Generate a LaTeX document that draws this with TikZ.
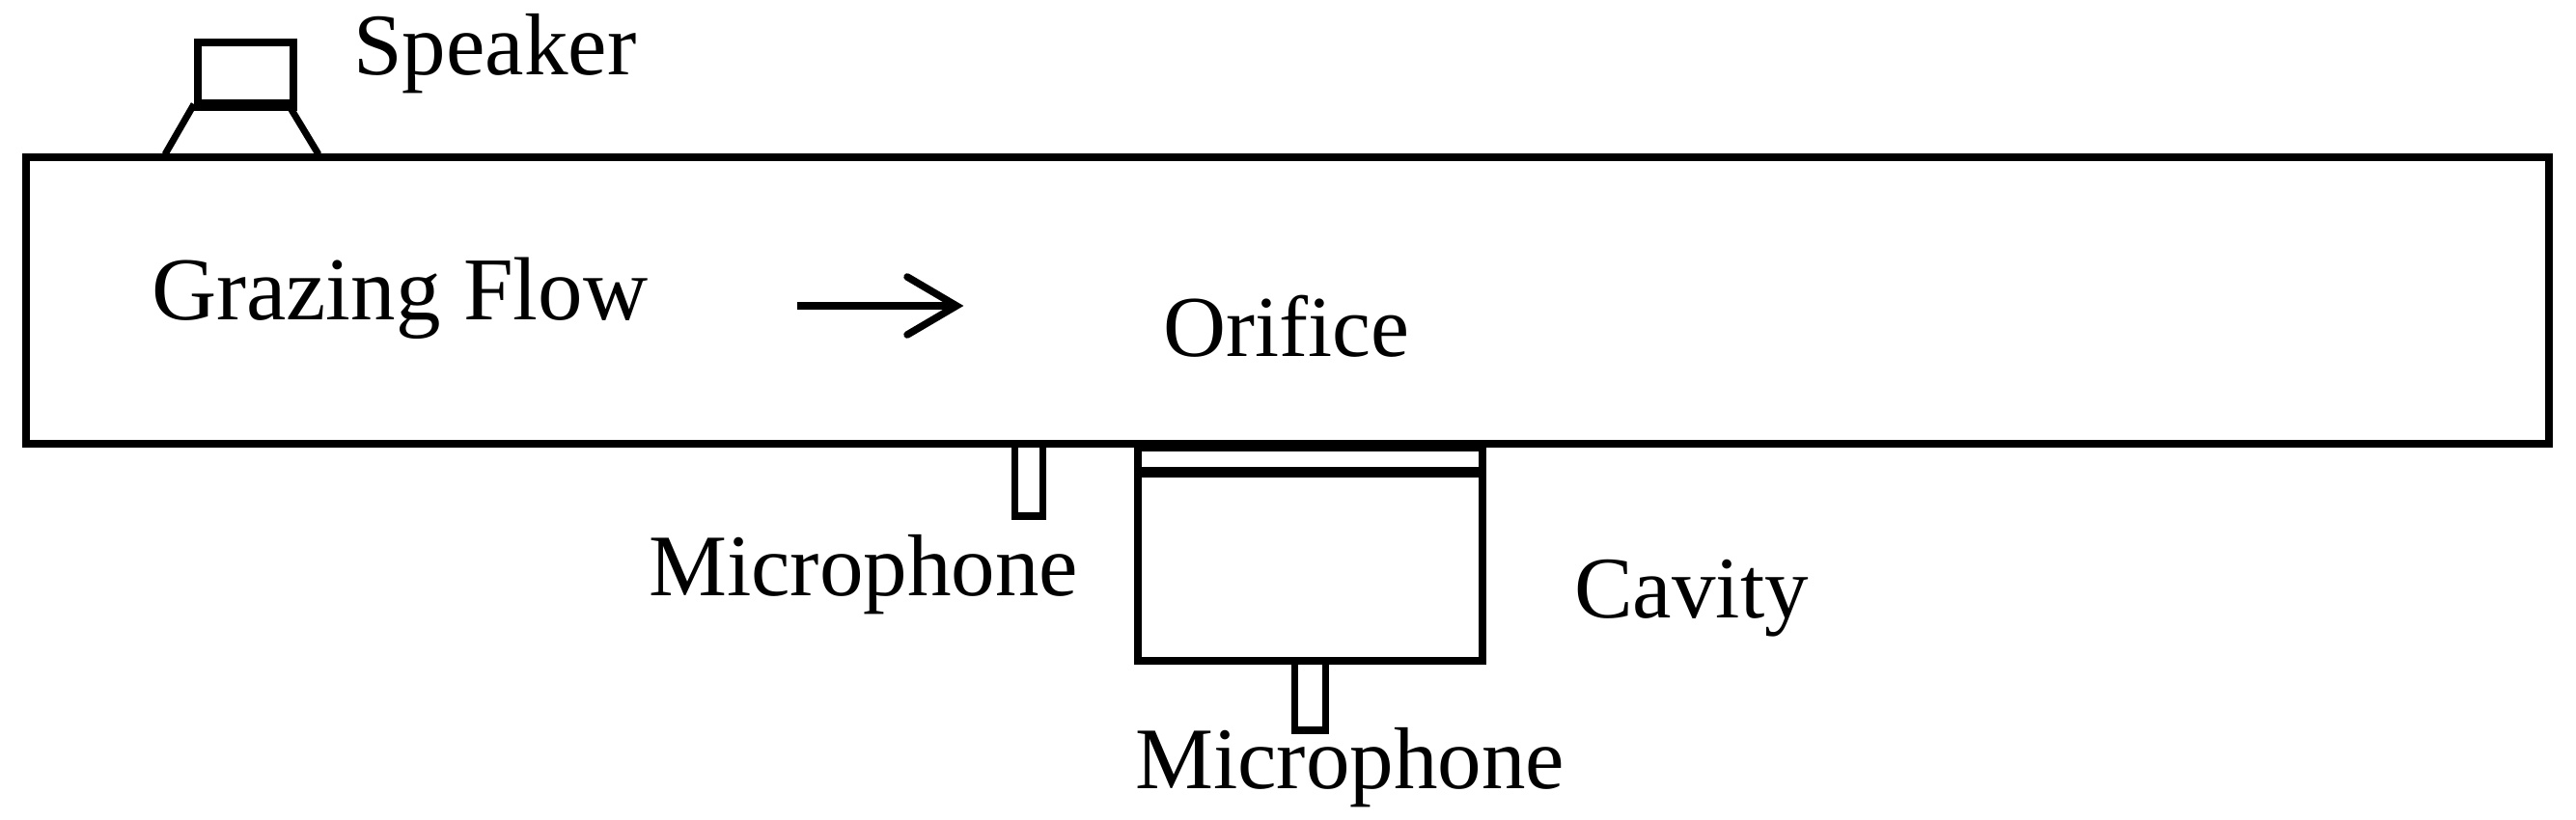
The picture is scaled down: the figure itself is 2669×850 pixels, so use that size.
\documentclass[tikz,border=0pt]{standalone}
\usepackage{fontspec}
\setmainfont{Liberation Serif}
\tikzset{
  lab/.style={anchor=base west,inner sep=0pt,font=\fontsize{#1}{100}\selectfont},
  lab/.default=91,
  wall/.style={draw=black,line width=8pt,line join=miter},
  side wall/.style={draw=black,line width=7.5pt},
  slant wall/.style={draw=black,line width=7pt},
  bar/.style={draw=none,fill=black},
  shaft/.style={draw=black,line width=8pt},
  barb/.style={draw=black,line width=7.5pt,line cap=round,line join=miter}
}
\begin{document}
\begin{tikzpicture}[x=1pt,y=-1pt]
\useasboundingbox (0,0) rectangle (2669,850);
% speaker
\draw[side wall] (205,109) -- (205,44) -- (304,44) -- (304,109);
\fill[bar] (201.5,40) rectangle (307.5,48);
\fill[bar] (201,103) rectangle (307.5,115);
\draw[slant wall] (201,108) -- (171,160);
\draw[slant wall] (301,112) -- (330,160);
% duct
\draw[wall] (26.5,163) rectangle (2640.5,459.5);
% microphones
\draw[side wall] (1051.5,460) -- (1051.5,535) -- (1080.5,535) -- (1080.5,460);
\draw[side wall] (1341.5,686) -- (1341.5,757) -- (1373.5,757) -- (1373.5,686);
\fill[bar] (1048,531) rectangle (1084,539);
\fill[bar] (1338,753) rectangle (1377,761);
% cavity
\draw[side wall] (1179,462) -- (1179,685) -- (1536,685) -- (1536,462);
\fill[bar] (1175,456) rectangle (1540,468);
\fill[bar] (1175,484) rectangle (1540,495);
\fill[bar] (1175,682) rectangle (1540,689);
% flow arrow
\coordinate (a) at (826,317);
\coordinate (b) at (991,317);
\coordinate (u) at (940,287);
\coordinate (d) at (940,347);
\draw[shaft] (a) -- (b);
\draw[barb] (u) -- (b) -- (d);
% labels
\node[lab] (speaker) at (366,78) {Speaker};
\node[lab=93] (grazing) at (157,331) {Grazing Flow};
\node[lab=90] (orifice) at (1205,369) {Orifice};
\node[lab] (mic1) at (672,617) {Microphone};
\node[lab] (cavity) at (1631,640) {Cavity};
\node[lab] (mic2) at (1176,817) {Microphone};
\end{tikzpicture}
\end{document}
